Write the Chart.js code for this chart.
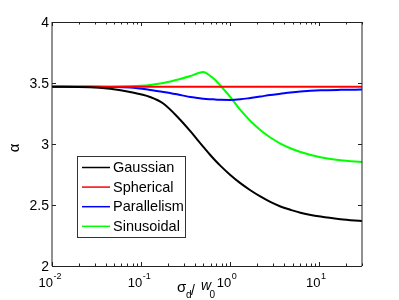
<!DOCTYPE html>
<html>
<head>
<meta charset="utf-8">
<script src="https://cdn.jsdelivr.net/npm/chart.js@4"></script>
<style>
  body { margin: 0; background: #fff; }
  #wrap { width: 399px; height: 300px; }
</style>
</head>
<body>
<div id="wrap"><canvas id="myChart" width="399" height="300"></canvas></div>
<script>
    // sigma_d / w_0 sample points (log axis)
    const sigmaRatio = [0.01, 0.0267, 0.0449, 0.0752, 0.126, 0.177, 0.274, 0.356, 0.426, 0.498, 0.596, 0.678,
                        0.772, 1.0, 1.295, 1.678, 2.17, 2.81, 3.65, 4.72, 6.12, 10.3, 17.2, 30];

    const gaussian = [3.47, 3.466, 3.452, 3.426, 3.385, 3.332, 3.199, 3.105, 3.036, 2.977, 2.910, 2.865,
                      2.823, 2.746, 2.679, 2.621, 2.570, 2.525, 2.488, 2.461, 2.437, 2.405, 2.384, 2.369];
    const spherical = [3.47, 3.47, 3.47, 3.47, 3.47, 3.47, 3.47, 3.47, 3.47, 3.47, 3.47, 3.47,
                       3.47, 3.47, 3.47, 3.47, 3.47, 3.47, 3.47, 3.47, 3.47, 3.47, 3.47, 3.47];
    const parallelism = [3.47, 3.47, 3.468, 3.463, 3.443, 3.426, 3.402, 3.385, 3.377, 3.371, 3.367, 3.365,
                         3.362, 3.361, 3.366, 3.377, 3.389, 3.402, 3.412, 3.422, 3.43, 3.44, 3.444, 3.446];
    const sinusoidal = [3.47, 3.47, 3.47, 3.473, 3.484, 3.50, 3.533, 3.557, 3.578, 3.59, 3.559, 3.525,
                        3.48, 3.385, 3.279, 3.189, 3.115, 3.053, 3.004, 2.965, 2.934, 2.891, 2.867, 2.852];

    const seriesNames = ['Gaussian', 'Spherical', 'Parallelism', 'Sinusoidal'];
    const seriesColors = ['#000000', '#ff0000', '#0000ff', '#00ff00'];

    const yTicks = [2, 2.5, 3, 3.5, 4];
    const yTickLabels = ['2', '2.5', '3', '3.5', '4'];
    const xTicks = [0.01, 0.1, 1, 10];
    const xTickExponents = ['-2', '-1', '0', '1'];

    const FONT = '"Liberation Sans", Arial, sans-serif';

    const toPoints = (ys) => sigmaRatio.map((x, i) => ({ x: x, y: ys[i] }));
    const allSeries = [gaussian, spherical, parallelism, sinusoidal];

    const data = {
      datasets: allSeries.map((ys, i) => ({
        label: seriesNames[i],
        data: toPoints(ys),
        borderColor: seriesColors[i],
        backgroundColor: seriesColors[i],
        borderWidth: 2,
        pointRadius: 0,
        cubicInterpolationMode: 'monotone',
        fill: false
      }))
    };

    // matlab-style axes: box, inward ticks, superscript labels, legend inside
    const matlabAxes = {
      id: 'matlabAxes',
      afterDraw(chart) {
        const {ctx, chartArea: {left, right, top, bottom}, scales: {x, y}} = chart;
        ctx.save();

        // box
        ctx.strokeStyle = '#222';
        ctx.lineWidth = 1;
        ctx.beginPath();
        ctx.moveTo(left, top); ctx.lineTo(left, bottom);
        ctx.moveTo(right, top); ctx.lineTo(right, bottom);
        ctx.moveTo(left, top + 0.5); ctx.lineTo(right, top + 0.5);
        ctx.moveTo(left, bottom + 0.5); ctx.lineTo(right, bottom + 0.5);
        ctx.stroke();

        // x ticks (major + minor)
        ctx.beginPath();
        for (let dec = 0.01; dec < 100; dec *= 10) {
          for (let m = 1; m <= 9; m++) {
            const v = dec * m;
            if (v < 0.01 || v > 30) continue;
            const px = Math.round(x.getPixelForValue(v)) + 0.5;
            const len = m === 1 ? 4 : 2.5;
            ctx.moveTo(px, bottom); ctx.lineTo(px, bottom - len);
            ctx.moveTo(px, top); ctx.lineTo(px, top + len);
          }
        }
        // y ticks
        yTicks.forEach(v => {
          const py = Math.round(y.getPixelForValue(v)) + 0.5;
          ctx.moveTo(left, py); ctx.lineTo(left + 4, py);
          ctx.moveTo(right, py); ctx.lineTo(right - 4, py);
        });
        ctx.stroke();

        // y tick labels
        ctx.fillStyle = '#000';
        ctx.font = '14px ' + FONT;
        ctx.textAlign = 'right';
        ctx.textBaseline = 'middle';
        yTicks.forEach((v, i) => {
          ctx.fillText(yTickLabels[i], left - 3, y.getPixelForValue(v) + 1.5);
        });

        // x tick labels 10^n
        ctx.textBaseline = 'alphabetic';
        xTicks.forEach((v, i) => {
          const px = x.getPixelForValue(v);
          ctx.font = '13px ' + FONT;
          ctx.textAlign = 'right';
          ctx.fillText('10', px + 1, 287);
          ctx.font = '9px ' + FONT;
          ctx.textAlign = 'left';
          ctx.fillText(xTickExponents[i], px + 1.5, 279);
        });

        // x title: sigma_d / w_0
        ctx.textAlign = 'left';
        ctx.font = '15px ' + FONT;
        ctx.fillText('σ', 177, 292);
        ctx.font = '10px ' + FONT;
        ctx.fillText('d', 186, 298);
        ctx.font = '14px ' + FONT;
        ctx.fillText('/', 191, 295);
        ctx.font = 'italic 14px ' + FONT;
        ctx.fillText('w', 201, 290);
        ctx.font = '10px ' + FONT;
        ctx.fillText('0', 209.5, 298);

        // y title
        ctx.save();
        ctx.translate(15, 148);
        ctx.rotate(-Math.PI / 2);
        ctx.font = '15px ' + FONT;
        ctx.textAlign = 'center';
        ctx.textBaseline = 'middle';
        ctx.fillText('α', 0, 0);
        ctx.restore();

        // legend box
        ctx.fillStyle = '#fff';
        ctx.fillRect(77.5, 156.5, 108, 81);
        ctx.strokeStyle = '#333';
        ctx.strokeRect(77.5, 156.5, 108, 81);
        chart.data.datasets.forEach((ds, i) => {
          const ry = 167.5 + i * 19.6;
          ctx.strokeStyle = ds.borderColor;
          ctx.lineWidth = 1.5;
          ctx.beginPath();
          ctx.moveTo(82, ry); ctx.lineTo(110, ry);
          ctx.stroke();
          ctx.fillStyle = '#000';
          ctx.font = '14.5px ' + FONT;
          ctx.textAlign = 'left';
          ctx.textBaseline = 'middle';
          ctx.fillText(ds.label, 113, ry + 0.5);
        });

        ctx.restore();
      }
    };

    const config = {
      type: 'line',
      data,
      options: {
        responsive: false,
        animation: false,
        devicePixelRatio: 1,
        layout: { padding: { left: 52, right: 37, top: 22, bottom: 34 } },
        plugins: {
          legend: { display: false },
          tooltip: { enabled: false }
        },
        scales: {
          x: { type: 'logarithmic', min: 0.01, max: 30, display: false },
          y: { type: 'linear', min: 2, max: 4, display: false }
        }
      },
      plugins: [matlabAxes]
    };

    const myChart = new Chart(document.getElementById('myChart'), config);
</script>
</body>
</html>
